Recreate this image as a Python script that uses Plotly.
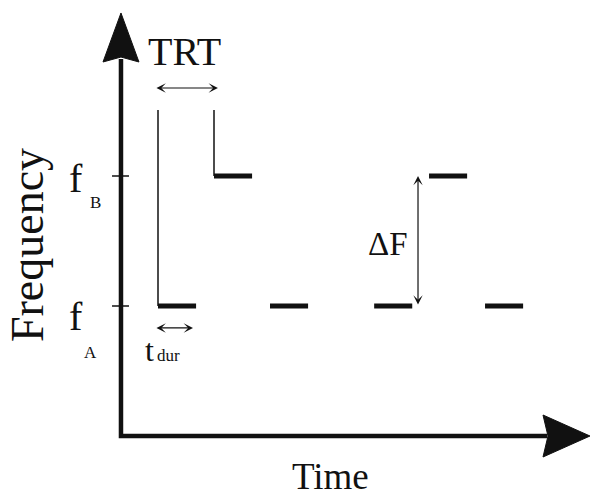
import plotly.graph_objects as go

# ---- data (time in TRT units, frequency levels fA=1, fB=2) ----
tone_onsets = [0, 1, 2, 3.86, 4.84, 5.84]
tone_levels = ["A", "B", "A", "A", "B", "A"]
tone_duration = 0.68
freq_values = {"A": 1, "B": 2}
freq_tick_labels = ["f", "f"]
freq_tick_subs = ["A", "B"]

# canvas mapping (pixel geometry of the schematic)
X_RANGE = [-158 / 56, (597 - 158) / 56]
Y_RANGE = [1 - 191 / 130, 1 + 306 / 130]

FONT = "Liberation Serif"
INK = "#111111"

fig = go.Figure()

# axes (drawn as thick lines with filled arrowheads)
ax_x0 = -0.661
fig.add_trace(go.Scatter(x=[ax_x0, ax_x0, 6.95], y=[2.9, 0, 0], mode="lines",
                         line=dict(color=INK, width=4.5), hoverinfo="skip"))
# y arrowhead
fig.add_trace(go.Scatter(x=[ax_x0, ax_x0 + 0.321, ax_x0, ax_x0 - 0.321, ax_x0],
                         y=[3.254, 2.877, 2.915, 2.877, 3.254], mode="lines",
                         fill="toself", fillcolor=INK, line=dict(color=INK, width=1),
                         hoverinfo="skip"))
# x arrowhead
fig.add_trace(go.Scatter(x=[7.714, 6.875, 6.964, 6.875, 7.714],
                         y=[0, 0.1615, 0, -0.1615, 0], mode="lines",
                         fill="toself", fillcolor=INK, line=dict(color=INK, width=1),
                         hoverinfo="skip"))

# tick marks at fA / fB
for lvl in ["A", "B"]:
    fig.add_trace(go.Scatter(x=[-0.821, -0.518], y=[freq_values[lvl]] * 2, mode="lines",
                             line=dict(color=INK, width=1.5), hoverinfo="skip"))

# thin vertical guide lines (TRT markers)
fig.add_trace(go.Scatter(x=[tone_onsets[0], tone_onsets[0]],
                         y=[2.508, freq_values[tone_levels[0]]], mode="lines",
                         line=dict(color=INK, width=1.5), hoverinfo="skip"))
fig.add_trace(go.Scatter(x=[tone_onsets[1], tone_onsets[1]],
                         y=[2.508, freq_values[tone_levels[1]]], mode="lines",
                         line=dict(color=INK, width=1.5), hoverinfo="skip"))

# tones
tx, ty = [], []
for t0, lvl in zip(tone_onsets, tone_levels):
    tx += [t0, t0 + tone_duration, None]
    ty += [freq_values[lvl]] * 2 + [None]
fig.add_trace(go.Scatter(x=tx, y=ty, mode="lines",
                         line=dict(color=INK, width=5), hoverinfo="skip"))

ann = []
# double arrows
def dbl_arrow(x0, y0, x1, y1):
    return dict(x=x1, y=y1, ax=x0, ay=y0, xref="x", yref="y", axref="x", ayref="y",
                showarrow=True, arrowside="end+start", arrowhead=3, startarrowhead=3,
                arrowsize=1.3, startarrowsize=1.3, arrowwidth=1.2, arrowcolor=INK, text="")

ann.append(dbl_arrow(-0.054, 2.677, 1.07, 2.677))          # TRT
ann.append(dbl_arrow(-0.054, 0.831, 0.625, 0.831))         # t_dur
ann.append(dbl_arrow(4.643, 1.0, 4.643, 2.0))              # ΔF

def txt(x, y, s, size, angle=0):
    return dict(x=x, y=y, xref="x", yref="y", text=s, showarrow=False, textangle=angle,
                font=dict(family=FONT, size=size, color=INK),
                xanchor="center", yanchor="middle")

ann.append(txt(-2.339, 1.469, "Frequency", 46, -90))
ann.append(txt(3.089, -0.315, "Time", 37))
ann.append(txt(0.482, 2.954, "TRT", 40))
ann.append(txt(4.107, 1.477, "ΔF", 33))
# f_B and f_A labels
ann.append(txt(-1.464, 1.977, freq_tick_labels[1], 40))
ann.append(txt(-1.125, 1.80, freq_tick_subs[1], 17))
ann.append(txt(-1.464, 0.923, freq_tick_labels[0], 40))
ann.append(txt(-1.214, 0.646, freq_tick_subs[0], 17))
# t_dur label
ann.append(txt(-0.143, 0.662, "t", 32))
ann.append(txt(0.179, 0.623, "dur", 17))

fig.update_layout(
    width=597, height=497,
    margin=dict(l=0, r=0, t=0, b=0),
    paper_bgcolor="white", plot_bgcolor="white",
    showlegend=False,
    xaxis=dict(range=X_RANGE, visible=False, fixedrange=True),
    yaxis=dict(range=Y_RANGE, visible=False, fixedrange=True),
    annotations=ann,
)

fig.write_html("out.html", config={"displayModeBar": False},
               post_script="document.body.style.margin='0';document.body.style.overflow='hidden';")
